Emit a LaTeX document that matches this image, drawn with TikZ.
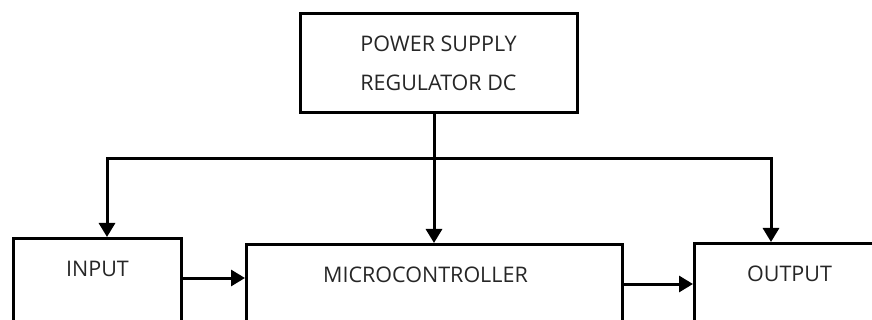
\documentclass[tikz,border=0pt]{standalone}
\usepackage{fontspec}
\setmainfont{Open Sans}
\usetikzlibrary{positioning,arrows.meta}

\tikzset{
  block/.style={draw, line width=3pt, inner xsep=0pt, inner ysep=0pt,
    text=black!85, font=\fontsize{21.5}{39}\selectfont},
  lowblock/.style={block, anchor=north west, text height=38pt, text depth=70pt},
  wire/.style={line width=3pt},
  feed/.style={line width=3pt, -{Triangle[length=14pt,width=16pt]}},
}

\begin{document}
\begin{tikzpicture}[x=1pt,y=-1pt]
  \useasboundingbox (0,0) rectangle (872,320);
  \clip (0,0) rectangle (872,320);

  % the supply on top
  \node[block, align=center, minimum width=277pt, minimum height=99pt] (psu) at (438.5,63.5)
    {POWER SUPPLY\\REGULATOR DC};

  % the three blocks below, cut by the lower edge
  \node[lowblock, minimum width=168pt] (input) at (12,237) {INPUT};
  \node[lowblock, minimum width=376pt] (micro) at (245,243) {MICROCONTROLLER\hspace*{18pt}};
  \node[lowblock, minimum width=190pt] (output) at (693,242) {OUTPUT};

  % supply bus
  \coordinate (busM) at (434,159);
  \coordinate (busL) at (107,159);
  \coordinate (busR) at (771,159);
  \draw[wire] (psu.south -| busM) -- (busM);
  \draw[feed] (busM) -- (busM |- micro.north);
  \draw[feed] (busM) -- (busL) -- (busL |- input.north);
  \draw[feed] (busM) -- (busR) -- (busR |- output.north);

  % signal path
  \coordinate (inout) at ([yshift=-41pt]input.north east);
  \coordinate (microout) at ([yshift=-41pt]micro.north east);
  \draw[feed] (inout) -- (inout -| micro.west);
  \draw[feed] (microout) -- (microout -| output.west);
\end{tikzpicture}
\end{document}
